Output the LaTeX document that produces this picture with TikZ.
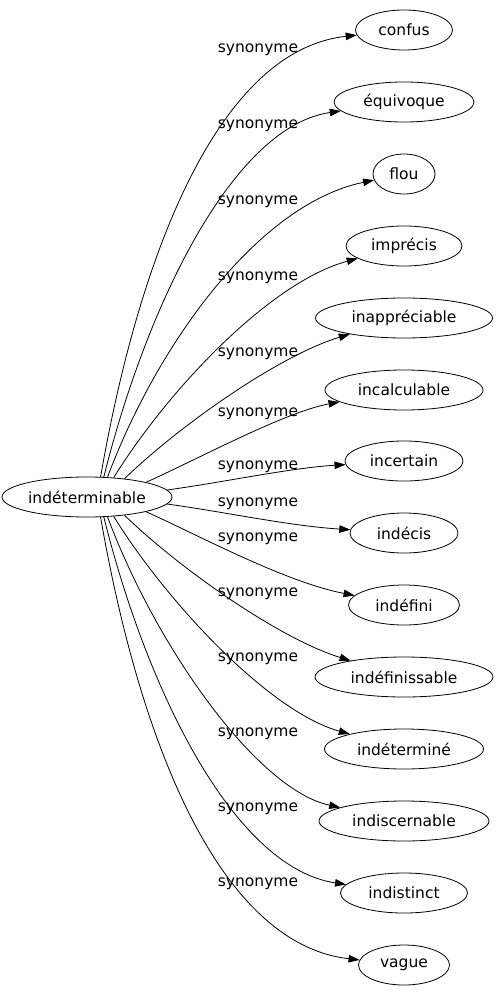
\documentclass[tikz,border=0pt]{standalone}
\usepackage{fontspec}
\setmainfont{DejaVu Sans}
\usetikzlibrary{shapes.geometric,arrows.meta}
\begin{document}
\begin{tikzpicture}[x=1pt,y=-1pt,
  every node/.style={font=\fontsize{15.5pt}{18pt}\selectfont},
  word/.style={draw,ellipse,inner sep=1pt,minimum height=40pt,line width=0.8pt},
  rel/.style={-{Triangle[length=11pt,width=7.5pt]},line width=0.8pt},
  rellabel/.style={inner sep=0pt}]
\useasboundingbox (0,0) rectangle (495,995);
\node[word,minimum width=170pt] (head) at (87,497) {indéterminable};
\node[word,minimum width=97pt] (confus) at (404,30) {confus};
\node[word,minimum width=140pt] (equivoque) at (404,102) {équivoque};
\node[word,minimum width=62pt] (flou) at (404,174) {flou};
\node[word,minimum width=116pt] (imprecis) at (404,246) {imprécis};
\node[word,minimum width=177pt] (inappreciable) at (404,318) {inappréciable};
\node[word,minimum width=158pt] (incalculable) at (404,390) {incalculable};
\node[word,minimum width=118pt] (incertain) at (404,461) {incertain};
\node[word,minimum width=108pt] (indecis) at (404,533) {indécis};
\node[word,minimum width=111pt] (indefini) at (404,605) {indéfini};
\node[word,minimum width=178pt] (indefinissable) at (404,677) {indéfinissable};
\node[word,minimum width=159pt] (indetermine) at (404,749) {indéterminé};
\node[word,minimum width=170pt] (indiscernable) at (404,821) {indiscernable};
\node[word,minimum width=127pt] (indistinct) at (404,893) {indistinct};
\node[word,minimum width=91pt] (vague) at (404,965) {vague};
\node[rellabel] (syn_confus) at (258,50) {synonyme};
\node[rellabel] (syn_equivoque) at (258,126) {synonyme};
\node[rellabel] (syn_flou) at (258,202) {synonyme};
\node[rellabel] (syn_imprecis) at (258,278) {synonyme};
\node[rellabel] (syn_inappreciable) at (258,354) {synonyme};
\node[rellabel] (syn_incalculable) at (258,414) {synonyme};
\node[rellabel] (syn_incertain) at (258,467) {synonyme};
\node[rellabel] (syn_indecis) at (258,504) {synonyme};
\node[rellabel] (syn_indefini) at (258,539) {synonyme};
\node[rellabel] (syn_indefinissable) at (258,594) {synonyme};
\node[rellabel] (syn_indetermine) at (258,659) {synonyme};
\node[rellabel] (syn_indiscernable) at (258,734) {synonyme};
\node[rellabel] (syn_indistinct) at (258,809) {synonyme};
\node[rellabel] (syn_vague) at (258,884) {synonyme};
\draw[rel] (head.56) .. controls (140,250) and (220,50) .. (confus);
\draw[rel] (head.50) .. controls (148,300) and (235,126) .. (equivoque);
\draw[rel] (head.44) .. controls (157,345) and (258,204) .. (flou);
\draw[rel] (head.36) .. controls (168,390) and (270,282) .. (imprecis);
\draw[rel] (head.26) .. controls (180,425) and (280,355) .. (inappreciable);
\draw[rel] (head.14) .. controls (200,458) and (285,412) .. (incalculable);
\draw[rel] (head.5) .. controls (225,482) and (290,468) .. (incertain);
\draw[rel] (head.-5) .. controls (225,512) and (290,526) .. (indecis);
\draw[rel] (head.-14) .. controls (200,536) and (285,582) .. (indefini);
\draw[rel] (head.-26) .. controls (180,569) and (280,639) .. (indefinissable);
\draw[rel] (head.-36) .. controls (168,604) and (270,712) .. (indetermine);
\draw[rel] (head.-44) .. controls (157,649) and (258,790) .. (indiscernable);
\draw[rel] (head.-50) .. controls (148,694) and (235,868) .. (indistinct);
\draw[rel] (head.-56) .. controls (140,744) and (220,944) .. (vague);
\end{tikzpicture}
\end{document}
